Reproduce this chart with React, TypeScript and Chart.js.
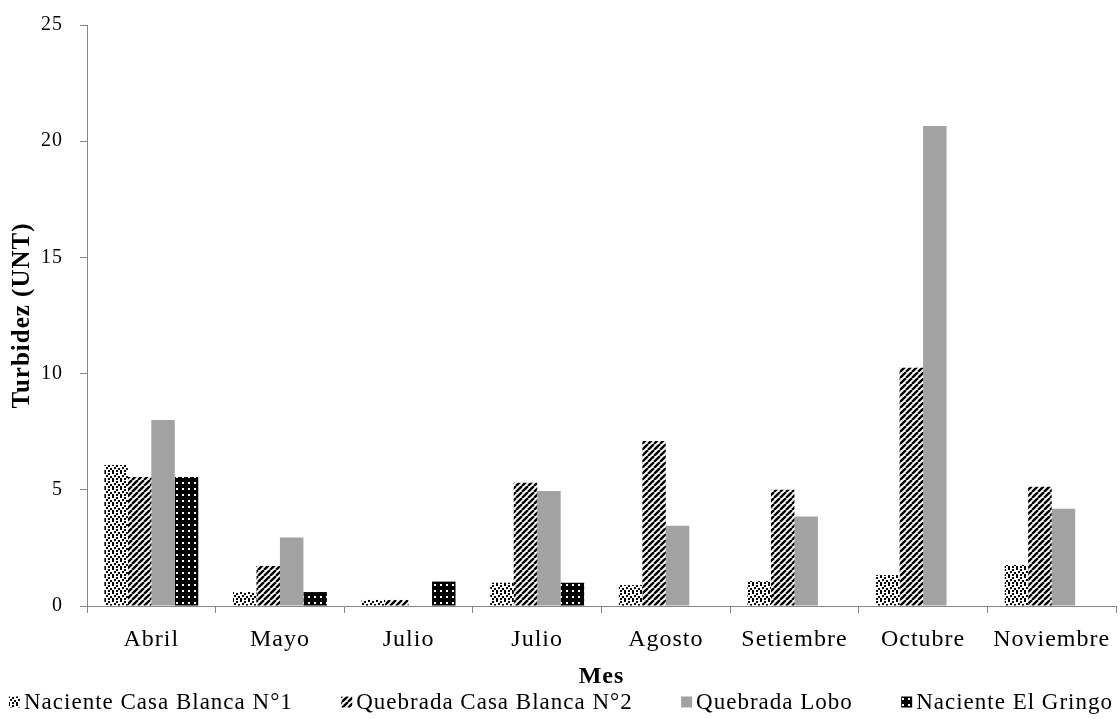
import React, { useEffect, useRef } from 'react';
import { Chart, registerables } from 'chart.js';

Chart.register(...registerables);

const months = ['Abril', 'Mayo', 'Julio', 'Julio', 'Agosto', 'Setiembre', 'Octubre', 'Noviembre'];
const seriesNames = [
  'Naciente Casa Blanca N°1',
  'Quebrada Casa Blanca N°2',
  'Quebrada Lobo',
  'Naciente El Gringo',
];
const nacienteCasaBlanca1 = [6.07, 0.6, 0.26, 1.0, 0.9, 1.07, 1.33, 1.76];
const quebradaCasaBlanca2 = [5.55, 1.72, 0.26, 5.3, 7.1, 5.0, 10.25, 5.13];
const quebradaLobo = [8.0, 2.95, null, 4.95, 3.45, 3.85, 20.65, 4.18];
const nacienteElGringo = [5.55, 0.6, 1.05, 1.0, null, null, null, null];
const yTickValues = [0, 5, 10, 15, 20, 25];

const FONT = "'Liberation Serif', 'Times New Roman', serif";
const AXIS_COLOR = '#868686';

function tile(size: number, draw: (c: CanvasRenderingContext2D) => void): CanvasPattern {
  const cv = document.createElement('canvas');
  cv.width = size;
  cv.height = size;
  const c = cv.getContext('2d') as CanvasRenderingContext2D;
  draw(c);
  const ctx2 = document.createElement('canvas').getContext('2d') as CanvasRenderingContext2D;
  return ctx2.createPattern(cv, 'repeat') as CanvasPattern;
}

function makePatterns() {
  const confetti = tile(8, (c) => {
    c.fillStyle = '#fff';
    c.fillRect(0, 0, 8, 8);
    c.fillStyle = '#000';
    const pts = [[0, 0], [4, 1], [2, 3], [6, 4], [0, 6], [4, 6]];
    pts.forEach(([x, y]) => c.fillRect(x, y, 2, 2));
  });
  const hatch = tile(6, (c) => {
    c.fillStyle = '#fff';
    c.fillRect(0, 0, 6, 6);
    c.strokeStyle = '#000';
    c.lineWidth = 2.4;
    c.beginPath();
    for (const o of [-6, 0, 6]) {
      c.moveTo(o, 6);
      c.lineTo(o + 6, 0);
    }
    c.stroke();
  });
  const dots = tile(6, (c) => {
    c.fillStyle = '#000';
    c.fillRect(0, 0, 6, 6);
    c.fillStyle = '#fff';
    c.fillRect(2, 2, 2, 2);
  });
  return { confetti, hatch, gray: '#a2a2a2', dots };
}

const spacing = {
  id: 'letterSpacing',
  beforeDraw(chart: any) {
    (chart.ctx as any).letterSpacing = '1px';
  },
};

const bottomLegend = {
  id: 'bottomLegend',
  afterDraw(chart: any) {
    const ctx = chart.ctx as CanvasRenderingContext2D;
    ctx.save();
    (ctx as any).letterSpacing = '1px';
    ctx.font = `23px ${FONT}`;
    const box = 11;
    const gapText = 4;
    const items = chart.data.datasets.map((ds: any) => ({
      label: ds.label as string,
      fill: ds.backgroundColor,
      w: box + gapText + ctx.measureText(ds.label).width,
    }));
    const total = items.reduce((s: number, it: any) => s + it.w, 0);
    const left = 9;
    const right = 1113;
    const gap = (right - left - total) / (items.length - 1);
    let x = left;
    const y = 702;
    items.forEach((it: any) => {
      ctx.fillStyle = it.fill;
      ctx.fillRect(x, y - box / 2, box, box);
      ctx.fillStyle = '#000';
      ctx.textBaseline = 'middle';
      ctx.textAlign = 'left';
      ctx.fillText(it.label, x + box + gapText, y + 1);
      x += it.w + gap;
    });
    ctx.restore();
  },
};

export default function App() {
  const ref = useRef<HTMLCanvasElement | null>(null);
  useEffect(() => {
    if (!ref.current) return;
    const p = makePatterns();
    const fills = [p.confetti, p.hatch, p.gray, p.dots];
    const values = [nacienteCasaBlanca1, quebradaCasaBlanca2, quebradaLobo, nacienteElGringo];
    const chart = new Chart(ref.current, {
      type: 'bar',
      data: {
        labels: months,
        datasets: values.map((v, i) => ({
          label: seriesNames[i],
          data: v,
          backgroundColor: fills[i],
          borderWidth: 0,
          categoryPercentage: 0.73,
          barPercentage: 1.0,
        })),
      },
      options: {
        animation: false,
        responsive: false,
        layout: { padding: { top: 25, right: 4, bottom: 30, left: 0 } },
        plugins: {
          legend: { display: false },
          tooltip: { enabled: false },
        },
        scales: {
          x: {
            afterFit: (s: any) => { s.height = 83; },
            grid: { drawOnChartArea: false, drawTicks: true, tickLength: 7, color: AXIS_COLOR, offset: true },
            border: { color: AXIS_COLOR, width: 1 },
            ticks: { color: '#000', font: { family: FONT, size: 24 }, padding: 12, maxRotation: 0, autoSkip: false },
            title: {
              display: true,
              text: 'Mes',
              color: '#000',
              font: { family: FONT, size: 24, weight: 'bold' },
              padding: { top: 0, bottom: -2 },
            },
          },
          y: {
            min: 0,
            max: 25,
            afterFit: (s: any) => {
              s.width = 87;
              s.paddingTop = 4;
              s.paddingBottom = 4;
            },
            afterBuildTicks: (s: any) => { s.ticks = yTickValues.map((v) => ({ value: v })); },
            grid: { drawOnChartArea: false, drawTicks: true, tickLength: 7, color: AXIS_COLOR },
            border: { color: AXIS_COLOR, width: 1 },
            ticks: { color: '#000', font: { family: FONT, size: 20 }, padding: 17 },
            title: {
              display: true,
              text: 'Turbidez (UNT)',
              color: '#000',
              font: { family: FONT, size: 25, weight: 'bold' },
              padding: { top: 8, bottom: 0 },
            },
          },
        },
      },
      plugins: [spacing, bottomLegend],
    });
    return () => chart.destroy();
  }, []);
  return (
    <div style={{ position: 'absolute', left: 0, top: 0, width: 1120, height: 719, background: '#fff' }}>
      <canvas ref={ref} width={1120} height={719} />
    </div>
  );
}
